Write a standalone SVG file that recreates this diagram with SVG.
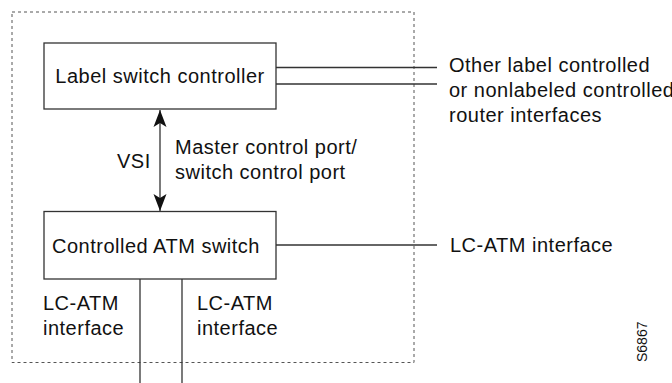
<svg xmlns="http://www.w3.org/2000/svg" width="672" height="383" viewBox="0 0 672 383">
<style>
.box{fill:#fff;stroke:#333;stroke-width:1.3}
.ln{stroke:#333;stroke-width:1.3;fill:none}
.t{font-family:"Liberation Sans",Arial,sans-serif;font-size:20px;letter-spacing:0.5px;fill:#111}
.s{font-family:"Liberation Sans",Arial,sans-serif;font-size:14px;fill:#111}
</style>
<defs>
<marker id="ah" viewBox="0 0 18 14" refX="17" refY="7" markerWidth="18" markerHeight="14" markerUnits="userSpaceOnUse" orient="auto-start-reverse">
<path d="M17,7 L0,0.5 L4,7 L0,13.5 Z" fill="#111"/>
</marker>
</defs>
<rect x="12" y="12" width="402" height="350.5" fill="none" stroke="#555" stroke-width="1" stroke-dasharray="3,3"/>
<g id="connectors">
<line class="ln" x1="276" y1="67.5" x2="437" y2="67.5"/>
<line class="ln" x1="276" y1="84" x2="437" y2="84"/>
<line class="ln" x1="160" y1="110" x2="160" y2="211" marker-start="url(#ah)" marker-end="url(#ah)"/>
<line class="ln" x1="276" y1="245" x2="437" y2="245"/>
<line class="ln" x1="140" y1="279" x2="140" y2="383"/>
<line class="ln" x1="182" y1="279" x2="182" y2="383"/>
</g>
<g id="lsc">
<rect class="box" x="44" y="43" width="232" height="66"/>
<text class="t" x="160" y="83" text-anchor="middle">Label switch controller</text>
</g>
<g id="atm">
<rect class="box" x="44" y="211.5" width="232" height="67.5"/>
<text class="t" x="156" y="253" text-anchor="middle">Controlled ATM switch</text>
</g>
<g id="labels">
<text class="t" x="117" y="168">VSI</text>
<text class="t" x="175" y="154">Master control port/</text>
<text class="t" x="175" y="179">switch control port</text>
<text class="t" x="449" y="71.5">Other label controlled</text>
<text class="t" x="449" y="96.5">or nonlabeled controlled</text>
<text class="t" x="449" y="121.5">router interfaces</text>
<text class="t" x="450" y="252">LC-ATM interface</text>
<text class="t" x="43" y="310">LC-ATM</text>
<text class="t" x="43" y="335">interface</text>
<text class="t" x="197" y="310">LC-ATM</text>
<text class="t" x="197" y="335">interface</text>
<text class="s" transform="translate(647,362) rotate(-90)">S6867</text>
</g>
</svg>
